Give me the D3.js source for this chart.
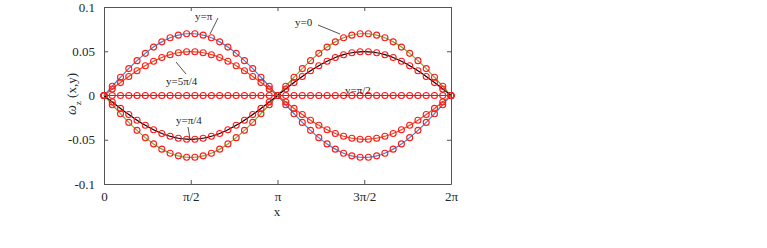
<!DOCTYPE html>
<html>
<head>
<meta charset="utf-8">
<script src="https://cdn.jsdelivr.net/npm/d3@7"></script>
<style>
  body { margin: 0; background: #fff; }
  text { font-family: "Liberation Serif", "DejaVu Serif", serif; fill: #262626; }
</style>
</head>
<body>
<svg id="chart" width="767" height="248"></svg>
<script>
// 43 samples over [0, 2pi]
let nPts = 43
let xValues = d3.range(nPts).map(i => i * 2 * Math.PI / (nPts - 1))

// values
let wY0 = [0, -0.0104, -0.0206, -0.0304, -0.0394, -0.0476, -0.0547, -0.0606, -0.0652, -0.0682, -0.0698,
    -0.0698, -0.0682, -0.0652, -0.0606, -0.0547, -0.0476, -0.0394, -0.0304, -0.0206, -0.0104, 0,
    0.0104, 0.0206, 0.0304, 0.0394, 0.0476, 0.0547, 0.0606, 0.0652, 0.0682, 0.0698,
    0.0698, 0.0682, 0.0652, 0.0606, 0.0547, 0.0476, 0.0394, 0.0304, 0.0206, 0.0104, 0]
let wYpi4 = [0, -0.0074, -0.0146, -0.0215, -0.0279, -0.0337, -0.0387, -0.0429, -0.0461, -0.0483, -0.0494,
    -0.0494, -0.0483, -0.0461, -0.0429, -0.0387, -0.0337, -0.0279, -0.0215, -0.0146, -0.0074, 0,
    0.0074, 0.0146, 0.0215, 0.0279, 0.0337, 0.0387, 0.0429, 0.0461, 0.0483, 0.0494,
    0.0494, 0.0483, 0.0461, 0.0429, 0.0387, 0.0337, 0.0279, 0.0215, 0.0146, 0.0074, 0]
let wYpi2 = [0, 0, 0, 0, 0, 0, 0, 0, 0, 0, 0, 0, 0, 0, 0, 0, 0, 0, 0, 0, 0, 0,
    0, 0, 0, 0, 0, 0, 0, 0, 0, 0, 0, 0, 0, 0, 0, 0, 0, 0, 0, 0, 0]
let wYpi = [0, 0.0104, 0.0206, 0.0304, 0.0394, 0.0476, 0.0547, 0.0606, 0.0652, 0.0682, 0.0698,
    0.0698, 0.0682, 0.0652, 0.0606, 0.0547, 0.0476, 0.0394, 0.0304, 0.0206, 0.0104, 0,
    -0.0104, -0.0206, -0.0304, -0.0394, -0.0476, -0.0547, -0.0606, -0.0652, -0.0682, -0.0698,
    -0.0698, -0.0682, -0.0652, -0.0606, -0.0547, -0.0476, -0.0394, -0.0304, -0.0206, -0.0104, 0]
let wY5pi4 = [0, 0.0074, 0.0146, 0.0215, 0.0279, 0.0337, 0.0387, 0.0429, 0.0461, 0.0483, 0.0494,
    0.0494, 0.0483, 0.0461, 0.0429, 0.0387, 0.0337, 0.0279, 0.0215, 0.0146, 0.0074, 0,
    -0.0074, -0.0146, -0.0215, -0.0279, -0.0337, -0.0387, -0.0429, -0.0461, -0.0483, -0.0494,
    -0.0494, -0.0483, -0.0461, -0.0429, -0.0387, -0.0337, -0.0279, -0.0215, -0.0146, -0.0074, 0]

let seriesNames = ['y=0', 'y=π/4', 'y=π/2', 'y=π', 'y=5π/4']
let seriesValues = [wY0, wYpi4, wYpi2, wYpi, wY5pi4]
let seriesColors = ['#77AC30', '#000000', '#7E2F8E', '#3b87d0', '#D95319']

let xTicks = [0, Math.PI / 2, Math.PI, 3 * Math.PI / 2, 2 * Math.PI]
let xTickLabels = ['0', 'π/2', 'π', '3π/2', '2π']
let yTicks = [-0.1, -0.05, 0, 0.05, 0.1]
let yTickLabels = ['-0.1', '-0.05', '0', '0.05', '0.1']

let margin = {left: 104, top: 7, width: 347, height: 177}

let svg = d3.select('#chart')
let g = svg.append('g').attr('transform', `translate(${margin.left}, ${margin.top})`)

let x = d3.scaleLinear().domain([0, 2 * Math.PI]).range([0, margin.width])
let y = d3.scaleLinear().domain([-0.1, 0.1]).range([margin.height, 0])

// axes, ticks pointing inward, box all round
let axisColor = '#555'
let bottomAxis = d3.axisBottom(x).tickValues(xTicks).tickSize(-4).tickSizeOuter(0)
    .tickFormat((d, i) => xTickLabels[i]).tickPadding(8)
let topAxis = d3.axisTop(x).tickValues(xTicks).tickSize(-4).tickSizeOuter(0).tickFormat('')
let leftAxis = d3.axisLeft(y).tickValues(yTicks).tickSize(-4).tickSizeOuter(0)
    .tickFormat((d, i) => yTickLabels[i]).tickPadding(9)
let rightAxis = d3.axisRight(y).tickValues(yTicks).tickSize(-4).tickSizeOuter(0).tickFormat('')

g.append('g').attr('transform', `translate(0, ${margin.height})`).call(bottomAxis)
g.append('g').call(topAxis)
g.append('g').call(leftAxis)
g.append('g').attr('transform', `translate(${margin.width}, 0)`).call(rightAxis)

g.selectAll('.domain').attr('stroke', axisColor).attr('stroke-width', 1)
g.selectAll('.tick line').attr('stroke', axisColor)
g.selectAll('.tick text').style('font-family', '"Liberation Serif", serif').style('font-size', '13px').attr('fill', '#262626')

// curves
let line = d3.line().x((d, i) => x(xValues[i])).y(d => y(d)).curve(d3.curveCatmullRom)
seriesValues.forEach((vals, k) => {
    g.append('path')
        .datum(vals)
        .attr('d', line)
        .attr('fill', 'none')
        .attr('stroke', seriesColors[k])
        .attr('stroke-width', 1.2)
})

// red circle markers
seriesValues.forEach((vals, k) => {
    g.append('g').selectAll('circle')
        .data(vals)
        .join('circle')
        .attr('cx', (d, i) => x(xValues[i]))
        .attr('cy', d => y(d))
        .attr('r', 3)
        .attr('fill', 'none')
        .attr('stroke', '#ff1a1a')
        .attr('stroke-width', 1.1)
})

// labels with leader lines
let notes = [
    {text: 'y=π', tx: 195, ty: 20, l: [218, 18, 210, 34]},
    {text: 'y=5π/4', tx: 166, ty: 85, l: [186, 74, 176, 62]},
    {text: 'y=π/4', tx: 176, ty: 124, l: [188, 127, 190, 139]},
    {text: 'y=0', tx: 295, ty: 26, l: [318, 25, 340, 34]},
    {text: 'y=π/2', tx: 345, ty: 94, l: null}
]
notes.forEach(n => {
    svg.append('text')
        .attr('x', n.tx).attr('y', n.ty)
        .style('font-size', '11px')
        .text(n.text)
    if (n.l) {
        svg.append('line')
            .attr('x1', n.l[0]).attr('y1', n.l[1])
            .attr('x2', n.l[2]).attr('y2', n.l[3])
            .attr('stroke', '#262626').attr('stroke-width', 0.8)
    }
})

// axis titles
svg.append('text')
    .attr('x', 277).attr('y', 216)
    .attr('text-anchor', 'middle')
    .style('font-size', '13px')
    .text('x')

let yLab = svg.append('text')
    .attr('transform', 'translate(76, 94) rotate(-90)')
    .attr('text-anchor', 'middle')
    .style('font-size', '13px')
yLab.append('tspan').text('ω').style('font-style', 'italic').style('font-size', '14px')
yLab.append('tspan').text('z').attr('dy', 5).style('font-size', '9px')
yLab.append('tspan').text(' (x,y)').attr('dy', -5)
</script>
</body>
</html>
